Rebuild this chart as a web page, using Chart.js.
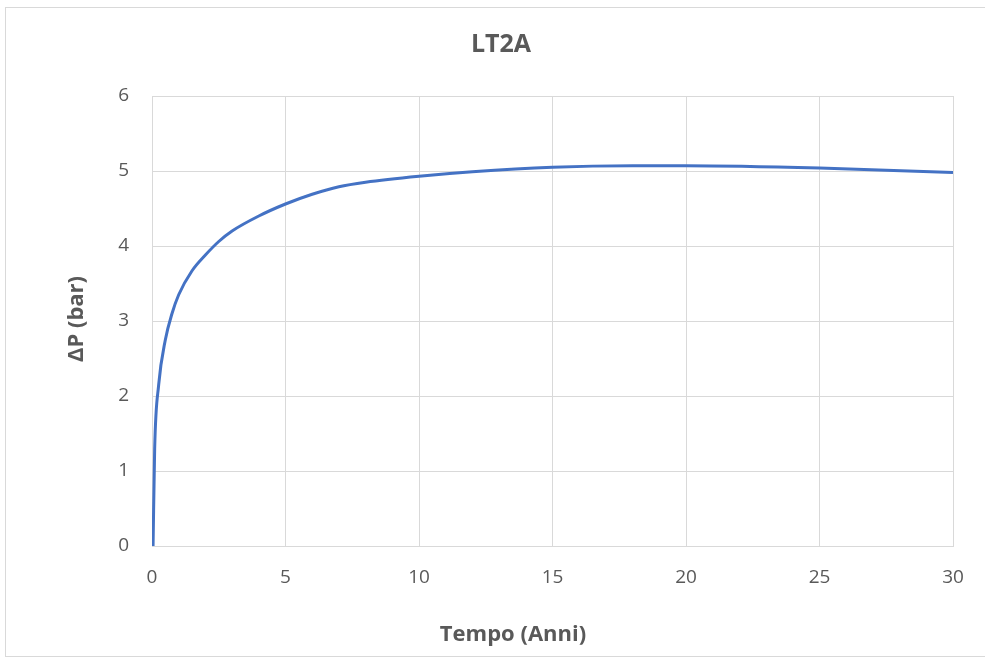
<!DOCTYPE html>
<html>
<head>
<meta charset="utf-8">
<script src="https://cdn.jsdelivr.net/npm/chart.js@4.4.0/dist/chart.umd.min.js"></script>
<style>
    body { margin: 0; background: #fff; }
    #wrap { position: relative; width: 985px; height: 659px; }
    #frame { position: absolute; left: 5px; top: 7px; width: 990px; height: 648px; border: 1px solid #d9d9d9; }
    #chart { position: absolute; left: 0; top: 0; }
</style>
</head>
<body>
<div id="wrap">
    <div id="frame"></div>
    <canvas id="chart" width="985" height="659"></canvas>
</div>
<script>
    // tempo (anni) e ΔP (bar)
    const years = [0.04, 0.1, 0.25, 0.5, 0.75, 1, 1.5, 2, 2.5, 3, 4, 5, 6, 7, 8, 10, 12, 15, 18, 20, 25, 30];
    const deltaP = [0, 1.3, 2.15, 2.75, 3.1, 3.35, 3.67, 3.88, 4.06, 4.2, 4.4, 4.56, 4.69, 4.79, 4.85, 4.93, 4.99, 5.05, 5.07, 5.07, 5.04, 4.98];
    const xTicks = [0, 5, 10, 15, 20, 25, 30];
    const yTicks = [0, 1, 2, 3, 4, 5, 6];

    const chartTitle = 'LT2A';
    const xTitle = 'Tempo (Anni)';
    const yTitle = 'ΔP (bar)';

    const textColor = '#595959';
    const gridColor = '#d9d9d9';
    const fontFamily = '"Open Sans", sans-serif';

    const points = years.map((t, i) => ({ x: t, y: deltaP[i] }));

    // titles are placed by hand, the built-in ones only center on the chart area
    const captions = {
        id: 'captions',
        afterDraw(chart) {
            const ctx = chart.ctx;
            ctx.save();
            ctx.fillStyle = textColor;
            ctx.textAlign = 'center';
            ctx.textBaseline = 'alphabetic';
            ctx.font = 'bold 25px ' + fontFamily;
            ctx.fillText(chartTitle, 501, 52);
            ctx.font = 'bold 22px ' + fontFamily;
            ctx.fillText(xTitle, 513, 641);
            ctx.translate(83, 319);
            ctx.rotate(-Math.PI / 2);
            ctx.fillText(yTitle, 0, 0);
            ctx.restore();
        }
    };

    new Chart(document.getElementById('chart').getContext('2d'), {
        type: 'scatter',
        data: {
            datasets: [{
                label: chartTitle,
                data: points,
                showLine: true,
                borderColor: '#4472c4',
                borderWidth: 3,
                pointRadius: 0,
                cubicInterpolationMode: 'monotone'
            }]
        },
        options: {
            responsive: false,
            animation: false,
            layout: { padding: { left: 0, right: 32, top: 96, bottom: 0 } },
            plugins: {
                legend: { display: false },
                tooltip: { enabled: false },
                title: { display: false }
            },
            scales: {
                x: {
                    type: 'linear',
                    min: 0,
                    max: 30,
                    afterBuildTicks: s => { s.ticks = xTicks.map(v => ({ value: v })); },
                    afterFit: s => { s.height = 113; },
                    grid: { color: gridColor, drawTicks: false },
                    border: { color: gridColor },
                    ticks: { color: textColor, font: { family: fontFamily, size: 19 }, padding: 20 }
                },
                y: {
                    min: 0,
                    max: 6,
                    afterBuildTicks: s => { s.ticks = yTicks.map(v => ({ value: v })); },
                    afterFit: s => { s.width = 152; },
                    grid: { color: gridColor, drawTicks: false },
                    border: { color: gridColor },
                    ticks: { color: textColor, font: { family: fontFamily, size: 19 }, padding: 23 }
                }
            }
        },
        plugins: [captions]
    });
</script>
</body>
</html>
